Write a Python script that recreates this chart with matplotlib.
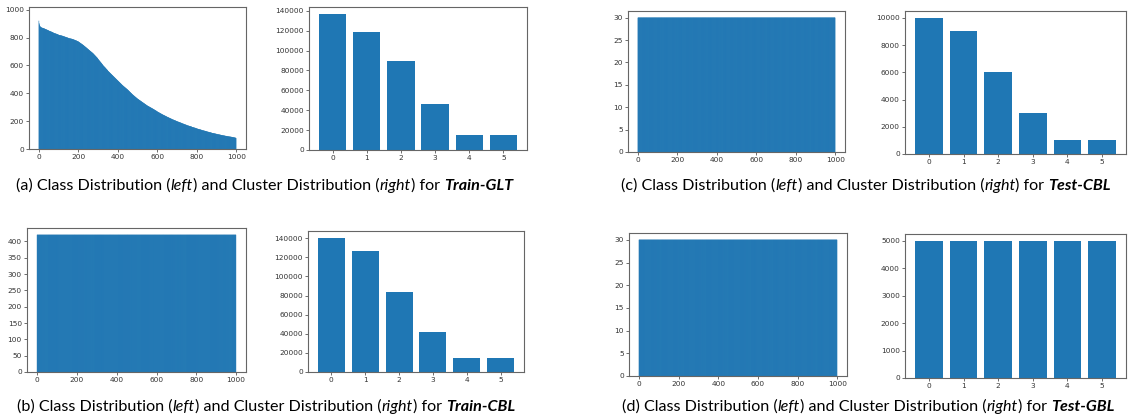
import matplotlib

matplotlib.use("Agg")
import matplotlib.pyplot as plt  # noqa: E402

# --------------------------------------------------------------------------- #
# Data
# --------------------------------------------------------------------------- #
N_CLASSES = 1000

# Train-GLT: per-class sample counts, sorted descending (long tail)
train_glt_class = [
    920, 902, 895, 890, 886, 883, 880, 878, 876, 875, 874, 873, 872, 871, 870, 870, 869, 869, 868, 868, 867, 867, 866, 866, 866,
    865, 864, 864, 863, 862, 862, 861, 860, 860, 859, 858, 858, 857, 857, 856, 855, 855, 854, 854, 853, 852, 852, 851, 850, 850,
    848, 848, 847, 847, 846, 845, 845, 844, 844, 843, 843, 842, 841, 841, 840, 840, 839, 839, 838, 837, 837, 836, 835, 834, 833,
    832, 832, 831, 831, 830, 830, 829, 829, 828, 828, 827, 827, 826, 826, 825, 825, 824, 824, 823, 823, 822, 821, 821, 820, 819,
    818, 818, 817, 817, 817, 816, 816, 816, 815, 815, 815, 814, 814, 814, 813, 813, 812, 812, 812, 811, 811, 810, 810, 809, 809,
    808, 808, 807, 807, 806, 806, 805, 805, 804, 804, 803, 803, 802, 802, 801, 801, 800, 800, 799, 799, 798, 798, 797, 797, 796,
    795, 795, 794, 794, 794, 793, 793, 793, 792, 792, 792, 791, 791, 791, 790, 790, 790, 789, 789, 789, 788, 788, 787, 787, 786,
    785, 785, 784, 784, 783, 783, 782, 781, 781, 780, 780, 779, 779, 778, 777, 777, 776, 776, 775, 774, 774, 773, 772, 772, 771,
    770, 769, 768, 767, 766, 765, 764, 763, 762, 761, 760, 759, 758, 757, 756, 755, 754, 753, 752, 751, 750, 749, 748, 747, 746,
    745, 744, 743, 741, 740, 739, 738, 737, 735, 734, 733, 732, 731, 729, 728, 727, 726, 725, 723, 722, 721, 720, 719, 717, 716,
    715, 714, 713, 711, 710, 709, 708, 707, 705, 704, 703, 702, 701, 699, 698, 697, 696, 695, 693, 692, 691, 690, 689, 687, 686,
    685, 683, 682, 680, 679, 677, 676, 674, 673, 671, 670, 668, 667, 665, 664, 662, 661, 659, 658, 656, 655, 653, 652, 650, 648,
    645, 643, 641, 640, 638, 636, 634, 633, 631, 629, 627, 626, 624, 622, 620, 619, 617, 615, 613, 612, 610, 608, 606, 604, 602,
    600, 598, 597, 595, 594, 592, 591, 589, 588, 586, 585, 583, 582, 580, 578, 577, 575, 574, 572, 571, 569, 568, 566, 565, 563,
    560, 559, 557, 556, 554, 553, 552, 550, 549, 547, 546, 545, 543, 542, 540, 539, 538, 536, 535, 533, 532, 531, 529, 528, 526,
    525, 524, 522, 521, 519, 518, 517, 515, 514, 512, 511, 510, 508, 507, 505, 504, 503, 501, 500, 498, 497, 496, 494, 493, 491,
    490, 489, 487, 486, 484, 483, 482, 480, 479, 477, 476, 475, 473, 472, 470, 469, 468, 466, 465, 463, 462, 461, 459, 458, 456,
    455, 454, 453, 451, 450, 449, 448, 447, 445, 444, 443, 442, 441, 439, 438, 437, 436, 435, 433, 432, 431, 430, 429, 427, 426,
    425, 424, 422, 421, 419, 418, 417, 415, 414, 412, 411, 410, 408, 407, 405, 404, 403, 401, 400, 398, 397, 396, 394, 393, 391,
    390, 389, 388, 386, 385, 384, 383, 382, 380, 379, 378, 377, 376, 374, 373, 372, 371, 370, 368, 367, 366, 365, 364, 362, 361,
    360, 359, 358, 357, 356, 355, 354, 353, 352, 351, 350, 349, 348, 347, 346, 345, 344, 343, 342, 341, 340, 339, 338, 337, 336,
    335, 334, 333, 332, 331, 330, 329, 328, 327, 326, 325, 324, 323, 322, 321, 320, 319, 318, 317, 316, 315, 314, 313, 312, 311,
    310, 309, 308, 308, 307, 306, 305, 304, 304, 303, 302, 301, 300, 300, 299, 298, 297, 296, 296, 295, 294, 293, 292, 292, 291,
    290, 289, 288, 288, 287, 286, 285, 284, 283, 282, 282, 281, 280, 279, 278, 277, 276, 276, 275, 274, 273, 272, 271, 270, 269,
    268, 267, 266, 266, 265, 264, 263, 262, 262, 261, 260, 259, 258, 258, 257, 256, 255, 254, 254, 253, 252, 251, 250, 250, 249,
    248, 247, 247, 246, 245, 244, 244, 243, 242, 242, 241, 240, 239, 239, 238, 237, 237, 236, 235, 234, 234, 233, 232, 232, 231,
    230, 229, 229, 228, 227, 227, 226, 225, 225, 224, 223, 223, 222, 221, 221, 220, 219, 219, 218, 217, 217, 216, 215, 215, 214,
    213, 212, 212, 211, 211, 210, 210, 209, 208, 208, 207, 207, 206, 205, 205, 204, 204, 203, 202, 202, 201, 201, 200, 199, 199,
    198, 197, 197, 196, 196, 195, 195, 194, 194, 193, 193, 192, 192, 191, 190, 190, 189, 189, 188, 188, 187, 187, 186, 186, 185,
    184, 183, 183, 182, 182, 181, 181, 180, 180, 179, 179, 178, 178, 177, 176, 176, 175, 175, 174, 174, 173, 173, 172, 172, 171,
    170, 169, 169, 169, 168, 168, 167, 167, 166, 166, 166, 165, 165, 164, 164, 163, 163, 163, 162, 162, 161, 161, 160, 160, 159,
    158, 157, 157, 157, 156, 156, 155, 155, 154, 154, 154, 153, 153, 152, 152, 151, 151, 151, 150, 150, 149, 149, 148, 148, 147,
    146, 146, 145, 145, 144, 144, 144, 143, 143, 142, 142, 142, 141, 141, 140, 140, 140, 139, 139, 138, 138, 138, 137, 137, 136,
    135, 135, 134, 134, 134, 133, 133, 133, 132, 132, 132, 131, 131, 130, 130, 130, 129, 129, 129, 128, 128, 128, 127, 127, 126,
    125, 125, 124, 124, 124, 123, 123, 123, 122, 122, 122, 121, 121, 120, 120, 120, 119, 119, 119, 118, 118, 118, 117, 117, 116,
    115, 115, 115, 114, 114, 114, 113, 113, 113, 112, 112, 112, 112, 111, 111, 111, 110, 110, 110, 109, 109, 109, 108, 108, 108,
    107, 107, 107, 106, 106, 106, 105, 105, 105, 104, 104, 104, 104, 103, 103, 103, 102, 102, 102, 101, 101, 101, 100, 100, 100,
    99, 99, 99, 98, 98, 98, 98, 97, 97, 97, 96, 96, 96, 96, 95, 95, 95, 95, 94, 94, 94, 93, 93, 93, 93,
    92, 92, 92, 91, 91, 91, 91, 90, 90, 90, 90, 89, 89, 89, 89, 88, 88, 88, 88, 88, 87, 87, 87, 87, 87,
    86, 86, 86, 85, 85, 85, 85, 84, 84, 84, 83, 83, 83, 83, 82, 82, 82, 81, 81, 81, 80, 80, 79, 79, 78,
]

# balanced class distributions: every class has the same count
train_cbl_class = [420] * N_CLASSES
test_cbl_class = [30] * N_CLASSES
test_gbl_class = [30] * N_CLASSES

clusters = [0, 1, 2, 3, 4, 5]
train_glt_cluster = [137000, 119000, 89500, 46500, 15000, 15000]
train_cbl_cluster = [140500, 127000, 84000, 42000, 14500, 14500]
test_cbl_cluster = [10000, 9000, 6000, 3000, 1000, 1000]
test_gbl_cluster = [5000, 5000, 5000, 5000, 5000, 5000]

captions = [
    ("(a)", "Train-GLT"),
    ("(b)", "Train-CBL"),
    ("(c)", "Test-CBL"),
    ("(d)", "Test-GBL"),
]

# --------------------------------------------------------------------------- #
# Layout (pixel boxes: left, right, top, bottom)
# --------------------------------------------------------------------------- #
W, H = 1136, 420
BAR_COLOR = "#1f77b4"
SPINE = "#666666"
TICK_FS = 5.3


def px_axes(fig, left, right, top, bottom):
    return fig.add_axes([left / W, 1 - bottom / H, (right - left) / W, (bottom - top) / H])


def style(ax):
    for s in ax.spines.values():
        s.set_color(SPINE)
        s.set_linewidth(0.8)
    ax.tick_params(labelsize=TICK_FS, length=2.2, width=0.5, pad=1.5,
                   colors="#333333", labelcolor="#333333")


def class_plot(ax, values, ylim=None):
    # sub-pixel bars: no snapping, thin edge so they read as a near-solid fill
    ax.bar(range(len(values)), values, color=BAR_COLOR, snap=False,
           edgecolor=BAR_COLOR, linewidth=0.15)
    ax.set_xticks([0, 200, 400, 600, 800, 1000])
    if ylim:
        ax.set_ylim(*ylim)
    style(ax)


def cluster_plot(ax, values):
    ax.bar(clusters, values, color=BAR_COLOR)
    ax.set_xticks(clusters)
    style(ax)


def caption(fig, x, y, tag, name, fs=11.6):
    """Draw a mixed-style caption left to right, starting at pixel (x, y) baseline."""
    r = fig.canvas.get_renderer()
    segs = [
        (f"{tag} Class Distribution (", "normal", "normal"),
        ("left", "italic", "normal"),
        (") and Cluster Distribution (", "normal", "normal"),
        ("right", "italic", "normal"),
        (") for ", "normal", "normal"),
        (name, "italic", "bold"),
    ]
    cx = x
    for txt, st, wt in segs:
        t = fig.text(cx / W, 1 - y / H, txt, fontsize=fs, family="Lato",
                     style=st, weight=wt, ha="left", va="baseline", color="black")
        cx += t.get_window_extent(r).width


fig = plt.figure(figsize=(W / 100, H / 100), dpi=100)

# (a) Train-GLT
class_plot(px_axes(fig, 29, 246, 7, 149), train_glt_class, ylim=(0, 1019))
cluster_plot(px_axes(fig, 309, 527, 7, 150), train_glt_cluster)
# (c) Test-CBL
class_plot(px_axes(fig, 628, 845, 11, 152), test_cbl_class)
cluster_plot(px_axes(fig, 905, 1126, 11, 154), test_cbl_cluster)
# (b) Train-CBL
class_plot(px_axes(fig, 27, 246, 228, 372), train_cbl_class)
cluster_plot(px_axes(fig, 308, 524, 231, 372), train_cbl_cluster)
# (d) Test-GBL
class_plot(px_axes(fig, 629, 847, 233, 376), test_gbl_class)
cluster_plot(px_axes(fig, 905, 1126, 234, 378), test_gbl_cluster)

caption(fig, 16, 190, *captions[0])
caption(fig, 17, 411, *captions[1])
caption(fig, 621, 190, *captions[2])
caption(fig, 622, 411, *captions[3])

fig.savefig("out.png", dpi=100)
